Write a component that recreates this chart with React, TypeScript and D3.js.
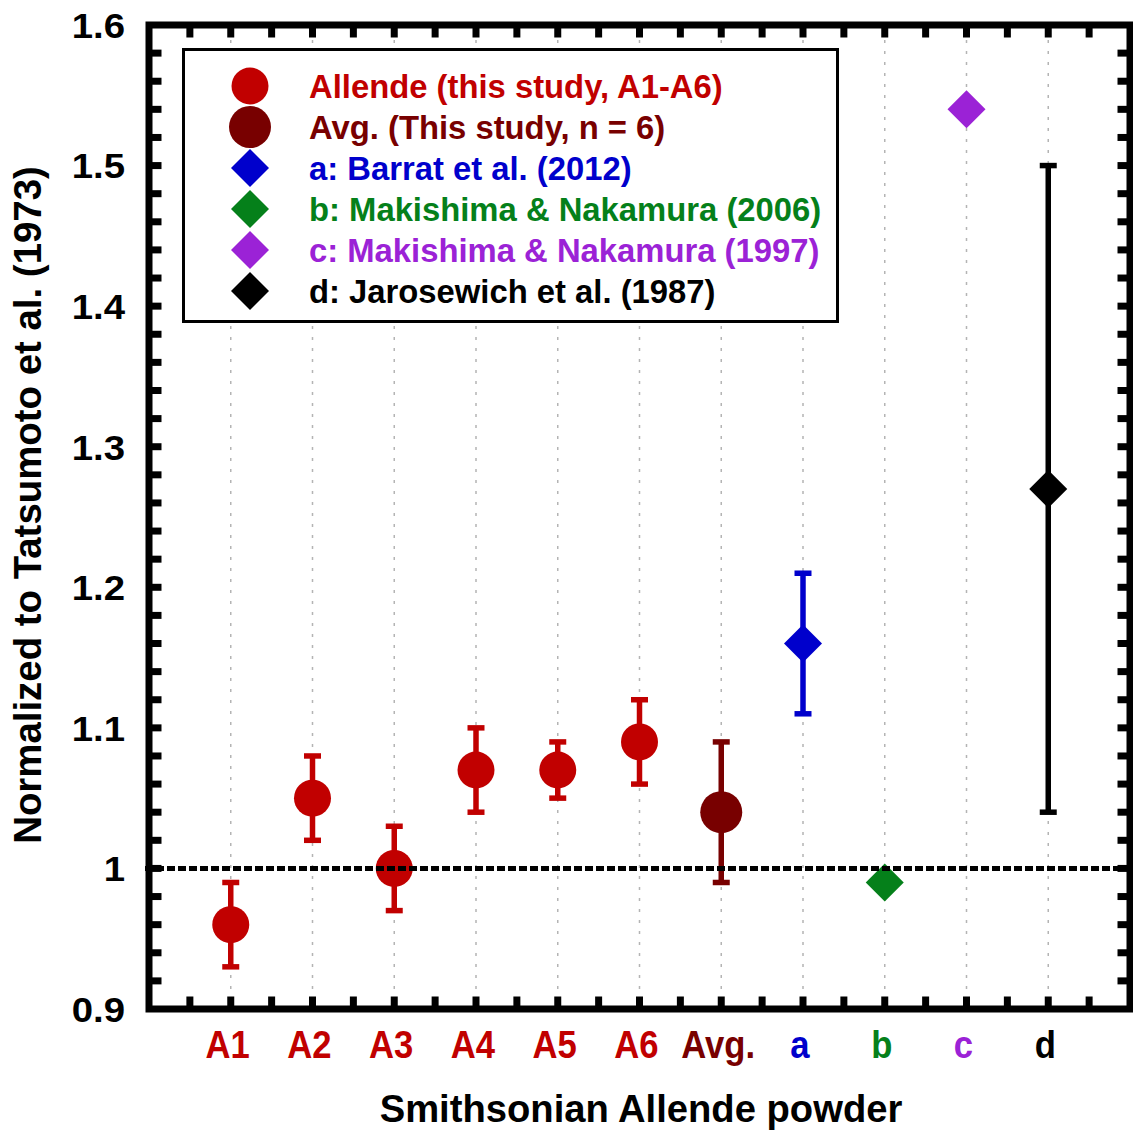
import React from "react";
import * as d3 from "d3";

// Sample categories along the x axis
const categories = ["A1", "A2", "A3", "A4", "A5", "A6", "Avg.", "a", "b", "c", "d"];
// Normalized values and symmetric uncertainties
const values = [0.96, 1.05, 1.0, 1.07, 1.07, 1.09, 1.04, 1.16, 0.99, 1.54, 1.27];
const errors = [0.03, 0.03, 0.03, 0.03, 0.02, 0.03, 0.05, 0.05, 0, 0, 0.23];
const markerKinds = ["circle", "circle", "circle", "circle", "circle", "circle", "bigCircle", "diamond", "diamond", "diamond", "diamond"];

const RED = "#C10000";
const DARK_RED = "#780000";
const BLUE = "#0000CC";
const GREEN = "#05801A";
const PURPLE = "#9B22D6";
const BLACK = "#000000";
const pointColors = [RED, RED, RED, RED, RED, RED, DARK_RED, BLUE, GREEN, PURPLE, BLACK];

// Legend entries
const legendLabels = [
  "Allende (this study, A1-A6)",
  "Avg. (This study, n = 6)",
  "a: Barrat et al. (2012)",
  "b: Makishima & Nakamura (2006)",
  "c: Makishima & Nakamura (1997)",
  "d: Jarosewich et al. (1987)",
];
const legendKinds = ["circle", "bigCircle", "diamond", "diamond", "diamond", "diamond"];
const legendColors = [RED, DARK_RED, BLUE, GREEN, PURPLE, BLACK];

const yTickValues = [0.9, 1.0, 1.1, 1.2, 1.3, 1.4, 1.5, 1.6];
const yTickLabels = ["0.9", "1", "1.1", "1.2", "1.3", "1.4", "1.5", "1.6"];

const FONT = "'Liberation Sans', Arial, Helvetica, sans-serif";

const W = 1133;
const H = 1134;
const left = 149;
const right = 1130;
const top = 25;
const bottom = 1009;

function Marker({ kind, cx, cy, color }: { kind: string; cx: number; cy: number; color: string }) {
  if (kind === "circle") return <circle cx={cx} cy={cy} r={18.5} fill={color} />;
  if (kind === "bigCircle") return <circle cx={cx} cy={cy} r={21} fill={color} />;
  const s = 19;
  return (
    <path
      d={`M${cx},${cy - s}L${cx + s},${cy}L${cx},${cy + s}L${cx - s},${cy}Z`}
      fill={color}
    />
  );
}

export default function App() {
  const x = d3.scaleLinear().domain([0, 12]).range([left, right]);
  const y = d3.scaleLinear().domain([0.9, 1.6]).range([bottom, top]);

  const xMinor = d3.range(1, 24).map((i) => i * 0.5);
  const yMinor = d3.range(1, 35).map((i) => 0.9 + i * 0.02);
  const tickLen = 12.5;

  return (
    <svg
      width={W}
      height={H}
      style={{ position: "absolute", left: 0, top: 0, display: "block", background: "#fff" }}
      fontFamily={FONT}
      fontWeight="bold"
    >
      <rect x={0} y={0} width={W} height={H} fill="#fff" />

      {/* vertical dotted gridlines at each category */}
      {categories.map((c, i) => (
        <line
          key={"g" + c}
          x1={x(i + 1)}
          x2={x(i + 1)}
          y1={top + 4}
          y2={bottom - 4}
          stroke="#b4b4b4"
          strokeWidth={1.5}
          strokeDasharray="3,8"
        />
      ))}

      {/* error bars */}
      {categories.map((c, i) =>
        errors[i] > 0 ? (
          <g key={"e" + c} stroke={pointColors[i]} strokeWidth={5.5}>
            <line x1={x(i + 1)} x2={x(i + 1)} y1={y(values[i] + errors[i])} y2={y(values[i] - errors[i])} />
            <line x1={x(i + 1) - 8.5} x2={x(i + 1) + 8.5} y1={y(values[i] + errors[i])} y2={y(values[i] + errors[i])} />
            <line x1={x(i + 1) - 8.5} x2={x(i + 1) + 8.5} y1={y(values[i] - errors[i])} y2={y(values[i] - errors[i])} />
          </g>
        ) : null
      )}

      {/* points */}
      {categories.map((c, i) => (
        <Marker key={"m" + c} kind={markerKinds[i]} cx={x(i + 1)} cy={y(values[i])} color={pointColors[i]} />
      ))}

      {/* reference line at 1 */}
      <line
        x1={left - 4}
        x2={right}
        y1={y(1)}
        y2={y(1)}
        stroke="#000"
        strokeWidth={5}
        strokeDasharray="8,3"
      />

      {/* legend */}
      <rect x={183.5} y={49.5} width={654} height={272} fill="#fff" stroke="#000" strokeWidth={3} />
      {legendLabels.map((lab, i) => {
        const cy = 86 + i * 41;
        return (
          <g key={"l" + i}>
            <Marker kind={legendKinds[i]} cx={250} cy={cy} color={legendColors[i]} />
            <text x={309} y={cy} dy="0.36em" fontSize={32.8} fill={legendColors[i]}>
              {lab}
            </text>
          </g>
        );
      })}

      {/* inward ticks on all four sides */}
      <g stroke="#000" strokeWidth={7}>
        {xMinor.map((v) => (
          <g key={"xt" + v}>
            <line x1={x(v)} x2={x(v)} y1={bottom} y2={bottom - tickLen} />
            <line x1={x(v)} x2={x(v)} y1={top} y2={top + tickLen} />
          </g>
        ))}
        {yMinor.map((v) => (
          <g key={"yt" + v.toFixed(2)}>
            <line x1={left} x2={left + tickLen} y1={y(v)} y2={y(v)} />
            <line x1={right} x2={right - tickLen} y1={y(v)} y2={y(v)} />
          </g>
        ))}
      </g>

      {/* frame */}
      <rect x={left} y={top} width={right - left} height={bottom - top} fill="none" stroke="#000" strokeWidth={7} />

      {/* y tick labels */}
      {yTickValues.map((v, i) => (
        <text
          key={"yl" + v}
          transform={`translate(125,${y(v)}) scale(1.08,1)`}
          dy="0.36em"
          textAnchor="end"
          fontSize={35.5}
          fill="#000"
        >
          {yTickLabels[i]}
        </text>
      ))}

      {/* x category labels */}
      {categories.map((c, i) => (
        <text
          key={"xl" + c}
          transform={`translate(${x(i + 1) - 3},1058) scale(0.9,1)`}
          textAnchor="middle"
          fontSize={38.5}
          fill={pointColors[i]}
        >
          {c}
        </text>
      ))}

      {/* axis titles */}
      <text x={641} y={1122} textAnchor="middle" fontSize={38.2} fill="#000">
        Smithsonian Allende powder
      </text>
      <text
        transform={`translate(41,505) rotate(-90)`}
        textAnchor="middle"
        fontSize={38.4}
        fill="#000"
      >
        Normalized to Tatsumoto et al. (1973)
      </text>
    </svg>
  );
}
